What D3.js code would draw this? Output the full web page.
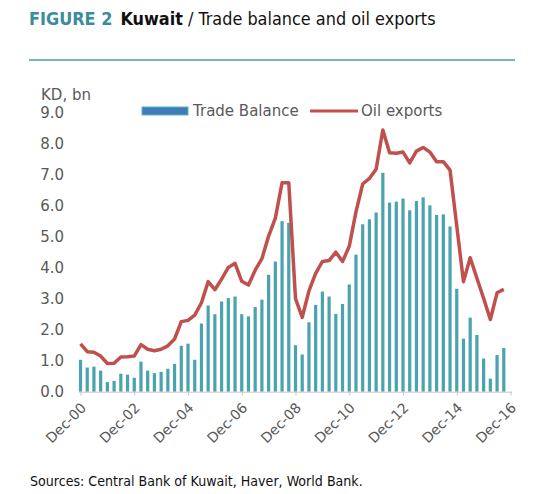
<!DOCTYPE html>
<html><head><meta charset="utf-8">
<script src="https://cdn.jsdelivr.net/npm/d3@7"></script>
<style>
html,body{margin:0;padding:0;background:#fff;}
svg{display:block;font-family:"DejaVu Sans",Verdana,sans-serif;}
.cond{font-stretch:condensed;}
</style></head>
<body>
<svg id="chart" width="550" height="494"></svg>
<script>
// Quarterly data Dec-00 .. Sep-16 (KD, bn)
const tradeBalance = [1.03,0.78,0.81,0.68,0.31,0.35,0.58,0.55,0.45,0.97,
  0.68,0.60,0.64,0.74,0.90,1.48,1.55,1.03,2.20,2.78,
  2.50,2.91,3.02,3.07,2.50,2.43,2.73,2.97,3.77,4.20,
  5.50,5.45,1.50,1.20,2.24,2.80,3.23,3.07,2.51,2.83,
  3.46,4.42,5.40,5.56,5.78,7.06,6.10,6.13,6.23,5.85,
  6.15,6.27,6.01,5.70,5.72,5.33,3.32,1.71,2.39,1.83,
  1.07,0.42,1.18,1.41];
const oilExports = [1.54,1.29,1.27,1.15,0.91,0.92,1.12,1.13,1.15,1.52,
  1.37,1.32,1.37,1.48,1.70,2.26,2.30,2.47,2.87,3.55,
  3.29,3.63,4.01,4.14,3.56,3.44,3.92,4.29,5.02,5.60,
  6.74,6.74,3.00,2.40,3.25,3.82,4.20,4.23,4.50,4.20,
  4.69,5.80,6.70,6.88,7.18,8.44,7.71,7.69,7.73,7.38,
  7.76,7.88,7.73,7.42,7.42,7.15,5.35,3.55,4.32,3.66,
  3.01,2.33,3.19,3.30];
const xTickLabels = ["Dec-00","Dec-02","Dec-04","Dec-06","Dec-08","Dec-10","Dec-12","Dec-14","Dec-16"];
const yTicks = [0,1,2,3,4,5,6,7,8,9];
const seriesNames = ["Trade Balance","Oil exports"];

const svg = d3.select("#chart");
const grey = "#595959";

// Title
const title = svg.append("text").attr("class","cond").attr("x",29).attr("y",25).attr("font-size",18);
title.append("tspan").attr("font-weight","bold").attr("fill","#3b8c9c").text("FIGURE 2");
title.append("tspan").attr("font-weight","bold").attr("fill","#111").attr("dx",8).text("Kuwait");
title.append("tspan").attr("fill","#111").text(" / Trade balance and oil exports");
function fit(sel, w){ const l = sel.node().getComputedTextLength(); const fs = +sel.attr("font-size"); sel.attr("font-size", fs*w/l); }
fit(title, 399);

svg.append("line").attr("x1",29).attr("x2",515).attr("y1",60).attr("y2",60)
  .attr("stroke","#4f9bab").attr("stroke-width",1.6);

// Scales
const x = d3.scaleLinear().domain([0,64]).range([80.5,510.5]);
const y = d3.scaleLinear().domain([0,9]).range([391.7,112.7]);

// Y axis labels
svg.append("text").attr("x",41).attr("y",100).attr("font-size",15).attr("fill",grey).text("KD, bn");
const yAxis = d3.axisLeft(y).tickValues(yTicks).tickFormat(d3.format(".1f")).tickSize(0).tickPadding(0);
const yg = svg.append("g").attr("transform","translate(64,0)").call(yAxis);
yg.select(".domain").remove();
yg.selectAll("text").attr("font-size",15).attr("fill",grey).attr("font-family","DejaVu Sans, sans-serif");

// Bars
const bw = 3.2;
svg.append("g").selectAll("rect").data(tradeBalance).join("rect")
  .attr("x",(d,i)=>x(i)-bw/2).attr("width",bw)
  .attr("y",d=>y(d)).attr("height",d=>y(0)-y(d))
  .attr("fill","#4aa3ad");

// X axis
const xAxis = d3.axisBottom(x).tickValues(d3.range(0,65,8))
  .tickFormat((d,i)=>xTickLabels[i]).tickSize(4).tickSizeOuter(0);
const xg = svg.append("g").attr("transform",`translate(0,${y(0)})`).call(xAxis);
xg.select(".domain").attr("stroke","#c8c8c8").attr("d",`M79,0.5H512`);
xg.selectAll(".tick line").attr("stroke","#c8c8c8");
xg.selectAll("text").attr("font-size",14).attr("fill",grey).attr("font-family","DejaVu Sans, sans-serif")
  .attr("text-anchor","end").attr("dy",null).attr("y",null)
  .attr("transform","translate(6,17) rotate(-45)");

// Line
const line = d3.line().x((d,i)=>x(i)).y(d=>y(d));
svg.append("path").datum(oilExports).attr("d",line).attr("fill","none")
  .attr("stroke","#c0504d").attr("stroke-width",3.5).attr("stroke-linejoin","round");

// Legend
svg.append("rect").attr("x",142).attr("y",107).attr("width",46).attr("height",8)
  .attr("fill","#3e7cb9").attr("stroke","#5cb5c0").attr("stroke-width",1);
svg.append("text").attr("x",193).attr("y",116).attr("font-size",15).attr("fill",grey).text(seriesNames[0]);
svg.append("line").attr("x1",310).attr("x2",358).attr("y1",111).attr("y2",111)
  .attr("stroke","#c0504d").attr("stroke-width",3);
svg.append("text").attr("x",361).attr("y",116).attr("font-size",15).attr("fill",grey).text(seriesNames[1]);

// Source
const src = svg.append("text").attr("class","cond").attr("x",30).attr("y",486).attr("font-size",13).attr("fill","#111")
  .text("Sources: Central Bank of Kuwait, Haver, World Bank.");
fit(src, 333);
</script>
</body></html>
